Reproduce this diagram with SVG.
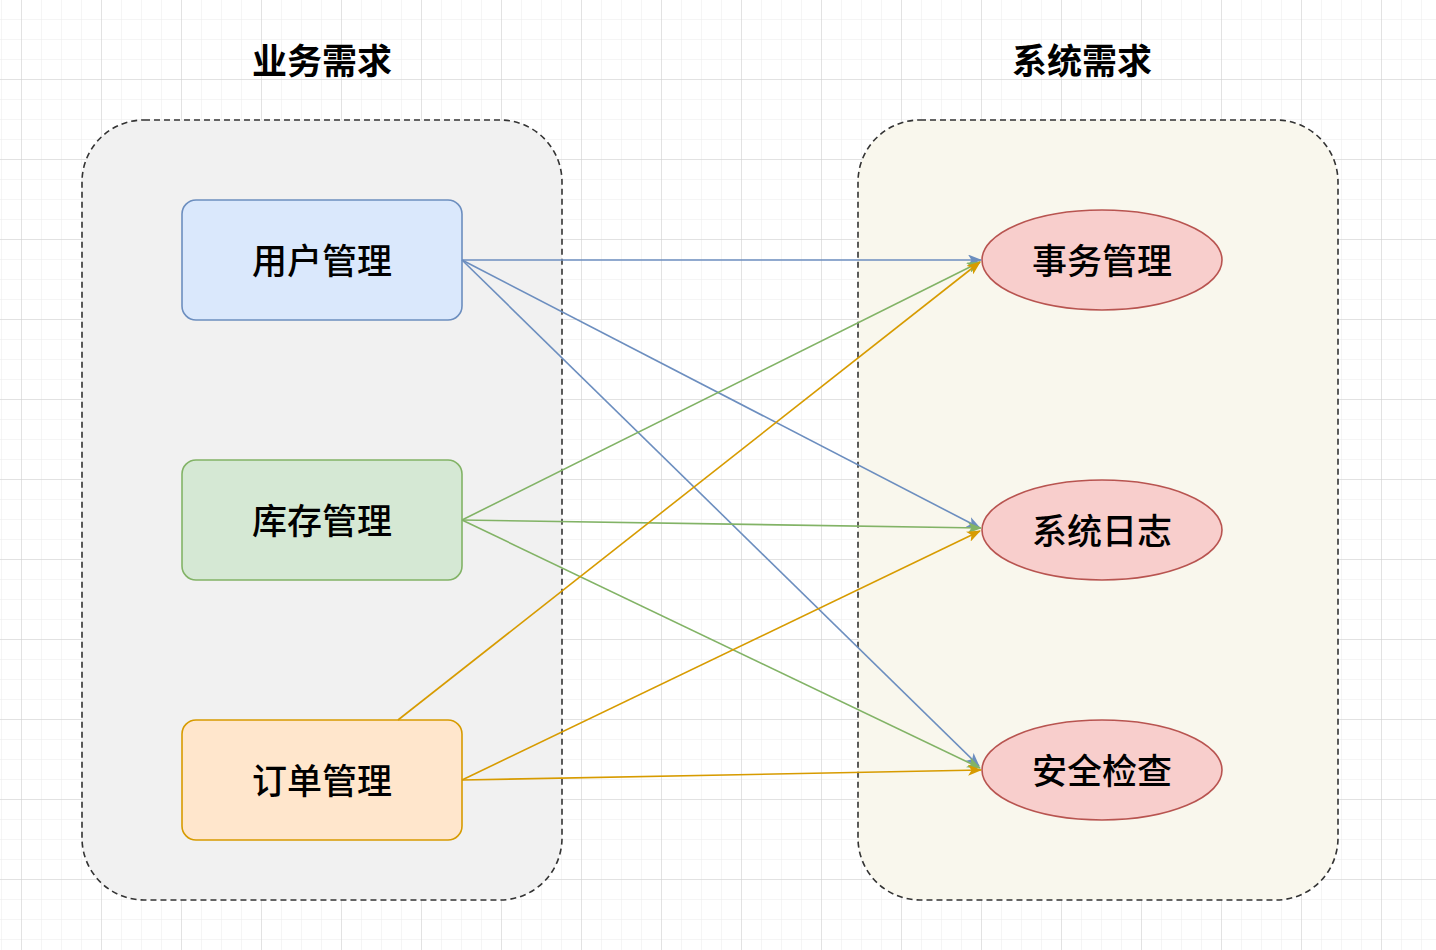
<svg xmlns="http://www.w3.org/2000/svg" width="1436" height="950" viewBox="0 0 1436 950">
<defs>
<pattern id="minor" x="1" y="19" width="20" height="20" patternUnits="userSpaceOnUse">
<path d="M0,0 H20 M0,0 V20" fill="none" stroke="#ebebeb" stroke-width="1"/>
</pattern>
<pattern id="major" x="21" y="79" width="80" height="80" patternUnits="userSpaceOnUse">
<path d="M0,0 H80 M0,0 V80" fill="none" stroke="#d0d0d0" stroke-width="1"/>
</pattern>
<marker id="aBlue" viewBox="0 0 14 11" refX="13" refY="5.5" markerWidth="14" markerHeight="11" markerUnits="userSpaceOnUse" orient="auto">
<path d="M0,0 L14,5.5 L0,11 L3.5,5.5 Z" fill="#6c8ebf"/>
</marker>
<marker id="aGreen" viewBox="0 0 14 11" refX="13" refY="5.5" markerWidth="14" markerHeight="11" markerUnits="userSpaceOnUse" orient="auto">
<path d="M0,0 L14,5.5 L0,11 L3.5,5.5 Z" fill="#82b366"/>
</marker>
<marker id="aOrange" viewBox="0 0 14 11" refX="13" refY="5.5" markerWidth="14" markerHeight="11" markerUnits="userSpaceOnUse" orient="auto">
<path d="M0,0 L14,5.5 L0,11 L3.5,5.5 Z" fill="#d79b00"/>
</marker>
<style>
.txt{font-family:"Noto Sans CJK SC","Noto Sans",sans-serif;font-size:35px;fill:#000;text-anchor:middle;dominant-baseline:central}
.title{font-weight:bold}
.node{font-weight:500}
.cont{stroke:#333;stroke-width:1.6;stroke-dasharray:6 4}
.e{fill:none;stroke-width:1.6}
.blue{stroke:#6c8ebf;marker-end:url(#aBlue)}
.green{stroke:#82b366;marker-end:url(#aGreen)}
.orange{stroke:#d79b00;marker-end:url(#aOrange)}
</style>
</defs>
<rect width="1436" height="950" fill="#ffffff"/>
<rect width="1436" height="950" fill="url(#minor)"/>
<rect width="1436" height="950" fill="url(#major)"/>

<g id="title-business"><text class="txt title" x="322" y="58">业务需求</text></g>
<g id="title-system"><text class="txt title" x="1082" y="58">系统需求</text></g>

<g id="container-business"><rect class="cont" x="82" y="120" width="480" height="780" rx="62" ry="62" fill="#f1f1f1"/></g>
<g id="container-system"><rect class="cont" x="858" y="120" width="480" height="780" rx="62" ry="62" fill="#f9f7ed"/></g>

<g id="node-user"><rect x="182" y="200" width="280" height="120" rx="14" ry="14" fill="#dae8fc" stroke="#6c8ebf" stroke-width="1.6"/><text class="txt node" x="322" y="258">用户管理</text></g>
<g id="node-stock"><rect x="182" y="460" width="280" height="120" rx="14" ry="14" fill="#d5e8d4" stroke="#82b366" stroke-width="1.6"/><text class="txt node" x="322" y="518">库存管理</text></g>
<g id="node-order"><rect x="182" y="720" width="280" height="120" rx="14" ry="14" fill="#ffe6cc" stroke="#d79b00" stroke-width="1.6"/><text class="txt node" x="322" y="778">订单管理</text></g>

<g id="node-tx"><ellipse cx="1102" cy="260" rx="120" ry="50" fill="#f8cecc" stroke="#b85450" stroke-width="1.6"/><text class="txt node" x="1102" y="258">事务管理</text></g>
<g id="node-log"><ellipse cx="1102" cy="530" rx="120" ry="50" fill="#f8cecc" stroke="#b85450" stroke-width="1.6"/><text class="txt node" x="1102" y="528">系统日志</text></g>
<g id="node-sec"><ellipse cx="1102" cy="770" rx="120" ry="50" fill="#f8cecc" stroke="#b85450" stroke-width="1.6"/><text class="txt node" x="1102" y="768">安全检查</text></g>

<g id="connectors">
<path class="e blue" d="M462,260 L981,260"/>
<path class="e blue" d="M462,260 L980,528"/>
<path class="e blue" d="M462,260 L979,766"/>
<path class="e green" d="M462,520 L980,262"/>
<path class="e green" d="M462,520 L981,528"/>
<path class="e green" d="M462,520 L980,768"/>
<path class="e orange" d="M398,720 L980,262"/>
<path class="e orange" d="M462,780 L980,531"/>
<path class="e orange" d="M462,780 L981,770"/>
</g>
</svg>
